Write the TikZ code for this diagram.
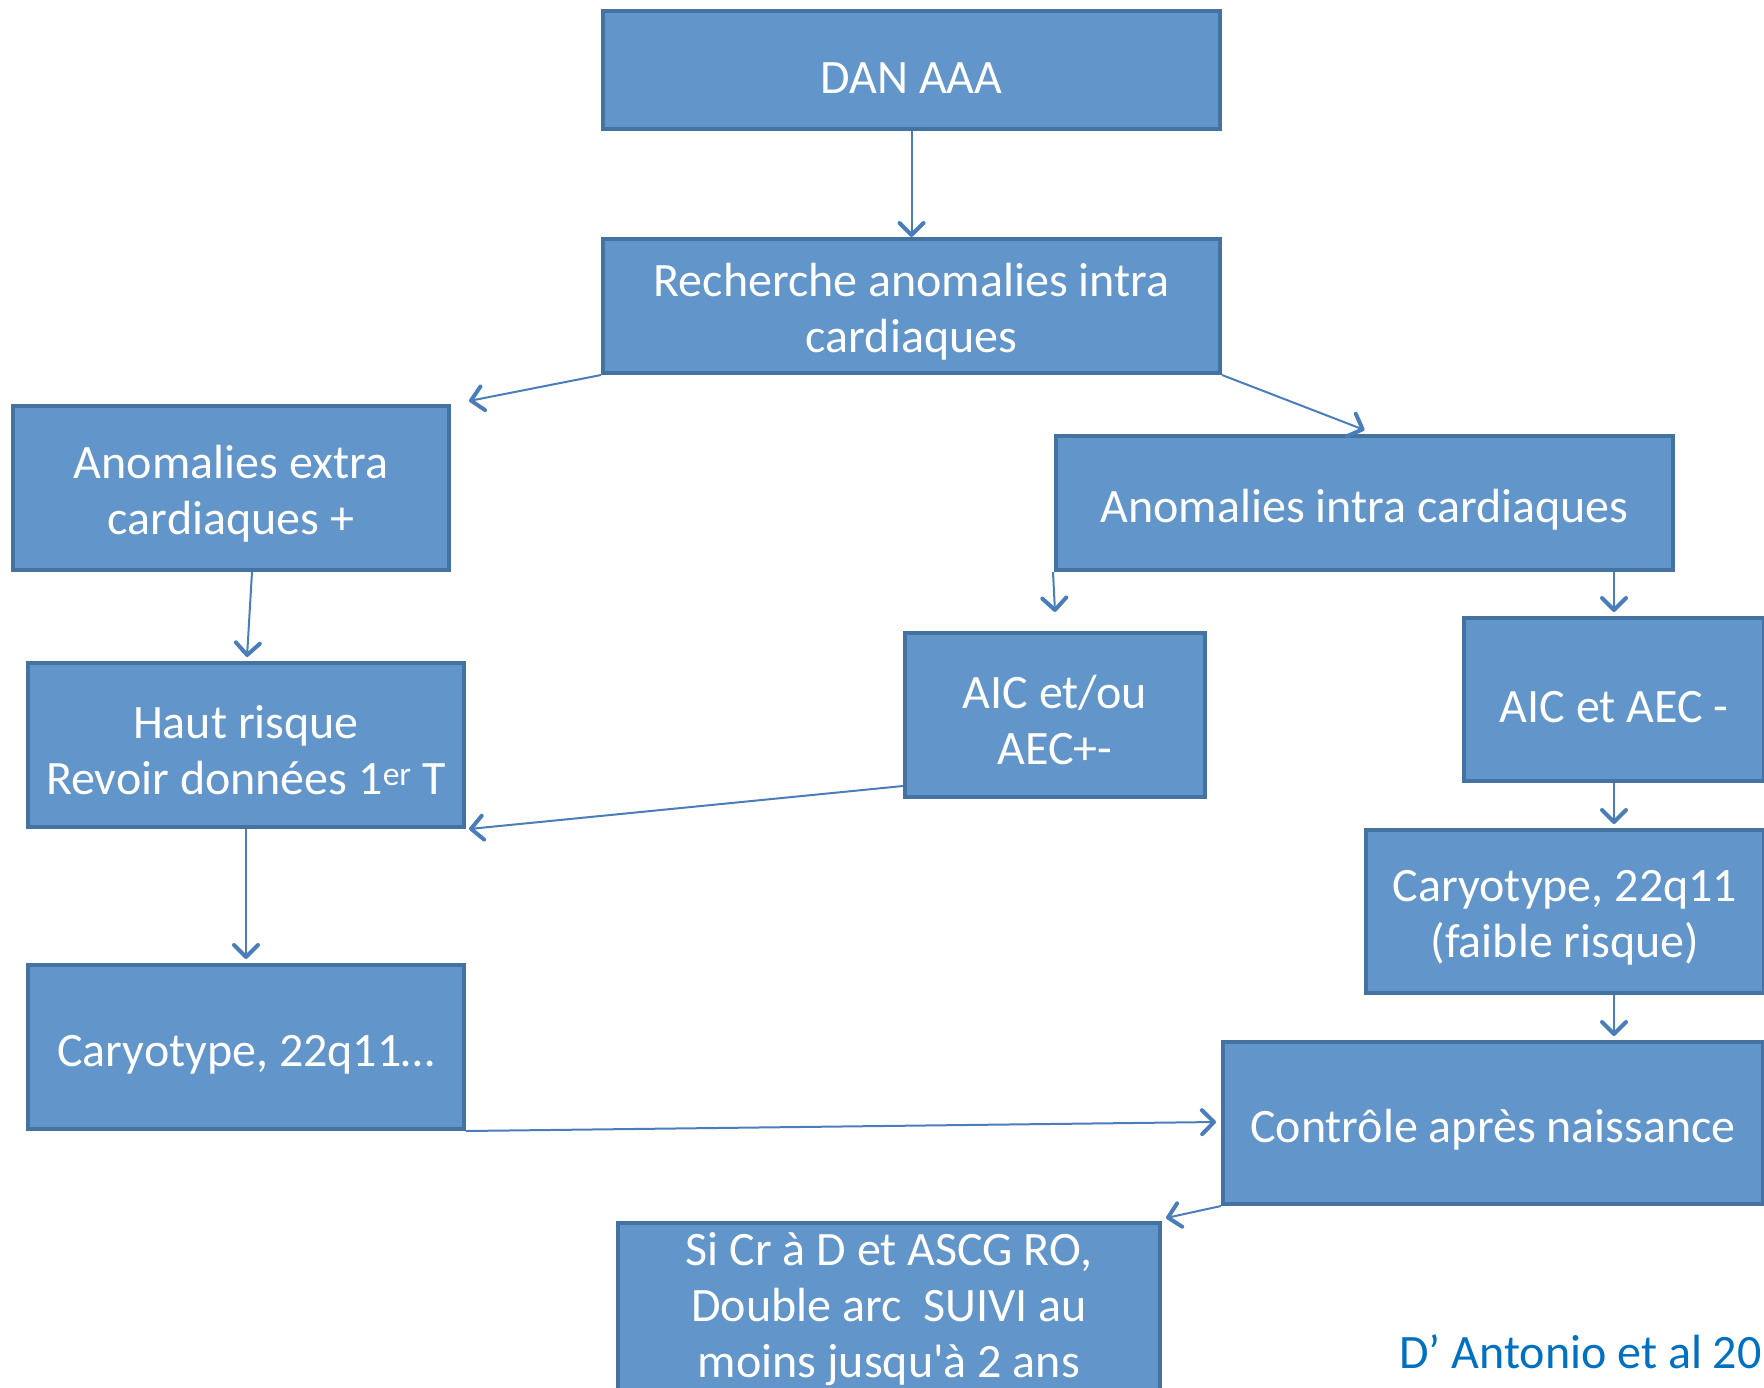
\documentclass[tikz,border=0pt]{standalone}
\usepackage{fontspec}
\setmainfont{Carlito}
\usepackage{xcolor}
\usetikzlibrary{calc, arrows.meta}

\definecolor{boxfill}{RGB}{98,149,201}
\definecolor{boxline}{RGB}{68,114,161}
\definecolor{arrowblue}{RGB}{74,126,187}
\definecolor{citeblue}{RGB}{0,112,192}

\newcommand{\lift}{\rule{0pt}{44pt}}

\tikzset{
  plainbox/.style={draw=boxline, fill=boxfill, line width=4pt, rectangle, inner sep=0pt,
    align=center, text=white, font=\fontsize{48}{56}\selectfont},
  stepbox/.style={plainbox, execute at begin node={\rule{0pt}{47pt}}},
  link/.style={draw=arrowblue, line width=2pt,
    -{Straight Barb[length=12pt, width=24pt, line width=4pt, round]}}
}

\begin{document}
\begin{tikzpicture}[x=1pt, y=-1pt]
            \useasboundingbox (0,0) rectangle (1764,1387);
            \clip (0,0) rectangle (1764,1387);
            \node[stepbox, minimum width=617pt, minimum height=118pt] (dan) at (911.5,70) {DAN AAA};
            \node[plainbox, minimum width=617pt, minimum height=134pt] (rech) at (911.5,306) {\lift Recherche anomalies intra\\cardiaques};
            \node[plainbox, minimum width=436pt, minimum height=164pt] (extra) at (231,488) {\lift Anomalies extra\\cardiaques +};
            \node[stepbox, minimum width=617pt, minimum height=134pt] (intra) at (1364.5,503) {Anomalies intra cardiaques};
            \node[plainbox, minimum width=436pt, minimum height=164pt] (haut) at (246,745) {\lift Haut risque\\Revoir données 1\textsuperscript{er} T};
            \node[plainbox, minimum width=300pt, minimum height=164pt] (aicou) at (1055,715) {\lift AIC et/ou\\AEC+-};
            \node[stepbox, minimum width=300pt, minimum height=163pt] (aicaec) at (1614,699.5) {AIC et AEC -};
            \node[plainbox, minimum width=398pt, minimum height=163pt] (faible) at (1565,911.5) {\lift Caryotype, 22q11\\(faible risque)};
            \node[stepbox, minimum width=436pt, minimum height=164pt] (cary) at (246,1047) {Caryotype, 22q11…};
            \node[stepbox, minimum width=540pt, minimum height=162pt] (ctrl) at (1493,1123) {Contrôle après naissance};
            \node[plainbox, minimum width=542pt, minimum height=172pt] (sicr) at (889,1309) {Si Cr à D et ASCG RO,\\Double arc\ \ SUIVI au\\moins jusqu\textquotesingle à 2 ans};
            \node[anchor=base west, inner sep=0pt, text=citeblue, font=\fontsize{48}{56}\selectfont] (cite) at (1399,1368) {D’ Antonio et al 20};

            \draw[link] (dan.south) -- (rech.north);
            \draw[link] (rech.south west) -- ($(extra.north east)+(18,-3)$);
            \draw[link] (rech.south east) -- ($(intra.north)+(0,-4)$);
            \draw[link] ($(extra.south)+(21,0)$) -- ($(haut.north)+(1,-4)$);
            \draw[link] ($(intra.south west)+(-1,0)$) -- ($(aicou.north)+(0,-19)$);
            \draw[link] (intra.south -| aicaec.north) -- ($(aicaec.north)+(0,-4)$);
            \draw[link] ($(aicou.south west)+(0,-13)$) -- ($(haut.south east)+(3,0)$);
            \draw[link] (haut.south) -- ($(cary.north)+(0,-4)$);
            \draw[link] (aicaec.south) -- ($(aicaec.south |- faible.north)+(0,-4)$);
            \draw[link] (faible.south -| aicaec.south) -- ($(ctrl.north -| aicaec.south)+(0,-4)$);
            \draw[link] (cary.south east) -- ($(ctrl.west)+(-5,-1)$);
            \draw[link] (ctrl.south west) -- ($(sicr.north east)+(4,-3)$);
        \end{tikzpicture}
\end{document}
